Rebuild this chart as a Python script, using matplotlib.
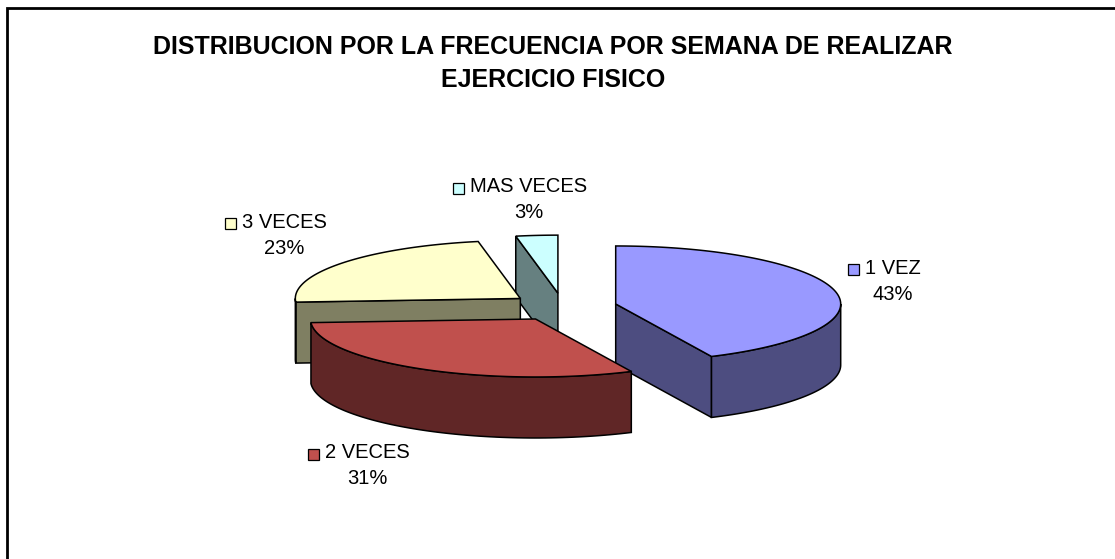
import numpy as np
import matplotlib
matplotlib.use("Agg")
import matplotlib.pyplot as plt
from matplotlib.patches import Polygon

# ---- data ----
categories = ["1 VEZ", "2 VECES", "3 VECES", "MAS VECES"]
values = [43, 31, 23, 3]
title_lines = ["DISTRIBUCION POR LA FRECUENCIA POR SEMANA DE REALIZAR", "EJERCICIO FISICO"]

# ---- style ----
top_colors = ["#9999FF", "#C0504D", "#FFFFCC", "#CCFFFF"]
side_colors = ["#4D4D80", "#602626", "#7F7F62", "#668080"]
label_pos = [(893, 281), (367, 466), (284, 235), (529, 200)]  # centre of category text column (px)

W, H = 1115, 559
fig = plt.figure(figsize=(W / 100, H / 100), dpi=100)
ax = fig.add_axes([0, 0, 1, 1])
ax.set_xlim(0, W)
ax.set_ylim(H, 0)
ax.axis("off")

plt.rcParams["font.family"] = ["Liberation Sans", "DejaVu Sans"]

# frame (top & left border, continuing off the figure)
ax.plot([7, 7, W + 5], [H + 5, 8, 8], color="black", lw=2.0, solid_capstyle="butt",
        solid_joinstyle="miter")

for k, line in enumerate(title_lines):
    ax.text(553, 47 + 33 * k, line, ha="center", va="center", fontsize=18,
            fontweight="bold", color="black")

# ---- 3D pie geometry ----
cx, cy = 563, 307      # pie centre
A, B = 225, 58         # ellipse semi-axes
depth = 61
explode = 0.24
lw = 1.1

total = float(sum(values))
fracs = [v / total for v in values]
bounds = np.concatenate([[0], np.cumsum(fracs)]) * 360.0


def pt(theta_deg, r, dz, off):
    t = np.radians(theta_deg)
    return (cx + off[0] + A * r * np.sin(t), cy + off[1] - B * r * np.cos(t) + dz)


slices = []
for i in range(len(values)):
    t1, t2 = bounds[i], bounds[i + 1]
    tm = np.radians((t1 + t2) / 2)
    off = (A * explode * np.sin(tm), -B * explode * np.cos(tm))
    slices.append((i, t1, t2, off))

# painter's order: back to front
order = sorted(slices, key=lambda s: -np.cos(np.radians((s[1] + s[2]) / 2)))

for i, t1, t2, off in order:
    sc, tc = side_colors[i], top_colors[i]
    apex_t = pt(0, 0, 0, off)
    apex_b = pt(0, 0, depth, off)
    # radial faces
    if np.sin(np.radians(t1)) < -1e-6:
        p_t = pt(t1, 1, 0, off)
        p_b = pt(t1, 1, depth, off)
        ax.add_patch(Polygon([apex_t, p_t, p_b, apex_b], closed=True, fc=sc, ec="black", lw=lw))
    if np.sin(np.radians(t2)) > 1e-6:
        p_t = pt(t2, 1, 0, off)
        p_b = pt(t2, 1, depth, off)
        ax.add_patch(Polygon([apex_t, p_t, p_b, apex_b], closed=True, fc=sc, ec="black", lw=lw))
    # outer curved side (front half only)
    lo, hi = max(t1, 90), min(t2, 270)
    if hi > lo:
        th = np.linspace(lo, hi, 80)
        top = [pt(t, 1, 0, off) for t in th]
        bot = [pt(t, 1, depth, off) for t in th[::-1]]
        ax.add_patch(Polygon(top + bot, closed=True, fc=sc, ec="black", lw=lw))
    # top face
    th = np.linspace(t1, t2, 120)
    poly = [apex_t] + [pt(t, 1, 0, off) for t in th]
    ax.add_patch(Polygon(poly, closed=True, fc=tc, ec="black", lw=lw, joinstyle="miter"))

# ---- labels ----
fs = 14.5
fig.canvas.draw()
renderer = fig.canvas.get_renderer()
for i, (lx, ly) in enumerate(label_pos):
    sq = 11  # key square size in px
    gap = 6
    y1 = ly - 13
    txt = ax.text(lx, y1, categories[i], fontsize=fs, ha="center", va="center")
    bb = txt.get_window_extent(renderer)
    x0 = lx - bb.width / 2 - gap - sq
    ax.add_patch(plt.Rectangle((x0, y1 - sq / 2 + 1), sq, sq, fc=top_colors[i], ec="black", lw=0.9))
    ax.text(lx, ly + 13, f"{values[i]}%", fontsize=fs, ha="center", va="center")

fig.savefig("out.png", dpi=100)
